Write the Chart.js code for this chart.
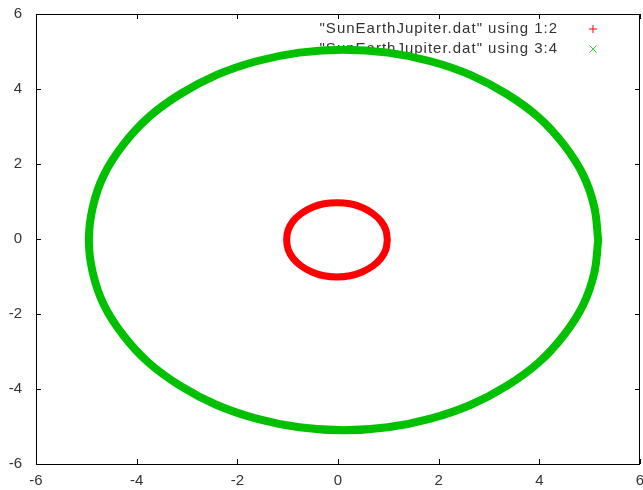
<!DOCTYPE html>
<html>
<head>
<meta charset="utf-8">
<script src="https://cdn.jsdelivr.net/npm/chart.js@4/dist/chart.umd.min.js"></script>
<style>
  html, body { margin: 0; padding: 0; background: #fff; }
  canvas { display: block; }
</style>
</head>
<body>
<canvas id="orbitChart" width="643" height="490"></canvas>
<script>
// --- Data ---
const earthLabel = '"SunEarthJupiter.dat" using 1:2';
const earthX = [0.98, 0.95, 0.85, 0.69, 0.48, 0.24, -0.02, -0.28, -0.52, -0.73, -0.89, -0.99,
                -1.02, -0.99, -0.89, -0.73, -0.52, -0.28, -0.02, 0.24, 0.48, 0.69, 0.85, 0.95, 0.98];
const earthY = [-0.02, 0.24, 0.48, 0.68, 0.84, 0.94, 0.97, 0.94, 0.84, 0.68, 0.48, 0.24,
                -0.02, -0.28, -0.52, -0.72, -0.88, -0.98, -1.01, -0.98, -0.88, -0.72, -0.52, -0.28, -0.02];

const jupiterLabel = '"SunEarthJupiter.dat" using 3:4';
const jupiterX = [5.17, 5.09, 4.87, 4.49, 3.99, 3.36, 2.64, 1.84, 0.99, 0.11, -0.77, -1.62,
                  -2.42, -3.14, -3.77, -4.27, -4.65, -4.87, -4.95, -4.87, -4.65, -4.27, -3.77, -3.14,
                  -2.42, -1.62, -0.77, 0.11, 0.99, 1.84, 2.64, 3.36, 3.99, 4.49, 4.87, 5.09, 5.17];
const jupiterY = [-0.03, 0.86, 1.71, 2.51, 3.24, 3.86, 4.37, 4.74, 4.97, 5.05, 4.97, 4.74,
                  4.37, 3.86, 3.24, 2.51, 1.71, 0.86, -0.03, -0.91, -1.76, -2.56, -3.29, -3.91,
                  -4.42, -4.79, -5.02, -5.10, -5.02, -4.79, -4.42, -3.91, -3.29, -2.56, -1.76, -0.91, -0.03];

const tickValues = [-6, -4, -2, 0, 2, 4, 6];

const toPoints = (xs, ys) => xs.map((x, i) => ({ x: x, y: ys[i] }));

const FONT = "'Liberation Sans', Arial, sans-serif";
const TEXT_COLOR = '#333';

// --- Plugin: box border + inward mirrored ticks (gnuplot style) ---
const frame = {
    id: 'frame',
    afterDraw(chart) {
        const { ctx, chartArea: a, scales } = chart;
        ctx.save();
        ctx.strokeStyle = '#000';
        ctx.lineWidth = 1;
        ctx.beginPath();
        ctx.rect(Math.round(a.left) + 0.5, Math.round(a.top) + 0.5,
                 Math.round(a.right - a.left) - 1, Math.round(a.bottom - a.top));
        const len = 5;
        tickValues.forEach(v => {
            const px = Math.round(scales.x.getPixelForValue(v)) + 0.5;
            ctx.moveTo(px, a.bottom); ctx.lineTo(px, a.bottom - len);
            ctx.moveTo(px, a.top); ctx.lineTo(px, a.top + len);
            const py = Math.round(scales.y.getPixelForValue(v)) + 0.5;
            ctx.moveTo(a.left, py); ctx.lineTo(a.left + len, py);
            ctx.moveTo(a.right, py); ctx.lineTo(a.right - len, py);
        });
        ctx.stroke();
        ctx.restore();
    }
};

// --- Plugin: key in the top right, text right-aligned with sample to its right ---
const gnuKey = {
    id: 'gnuKey',
    beforeDatasetsDraw(chart) {
        const ctx = chart.ctx;
        const textRight = 558;
        const sampleX = 593;
        const rowY = [29, 49];
        ctx.save();
        ctx.font = '15px ' + FONT;
        ctx.letterSpacing = '1px';
        ctx.textAlign = 'right';
        ctx.textBaseline = 'middle';
        chart.data.datasets.forEach((ds, i) => {
            const y = rowY[i];
            ctx.fillStyle = TEXT_COLOR;
            ctx.fillText(ds.label, textRight, y);
            ctx.strokeStyle = ds.keyColor;
            ctx.lineWidth = 1;
            ctx.beginPath();
            if (ds.keyStyle === 'cross') {
                ctx.moveTo(sampleX - 4, y); ctx.lineTo(sampleX + 4, y);
                ctx.moveTo(sampleX, y - 4); ctx.lineTo(sampleX, y + 4);
            } else {
                ctx.moveTo(sampleX - 3.5, y - 3.5); ctx.lineTo(sampleX + 3.5, y + 3.5);
                ctx.moveTo(sampleX - 3.5, y + 3.5); ctx.lineTo(sampleX + 3.5, y - 3.5);
            }
            ctx.stroke();
        });
        ctx.restore();
    }
};

const ctx = document.getElementById('orbitChart').getContext('2d');
const orbitChart = new Chart(ctx, {
    type: 'scatter',
    data: {
        datasets: [
            {
                label: earthLabel,
                data: toPoints(earthX, earthY),
                showLine: true,
                borderColor: '#ff0000',
                borderWidth: 7,
                borderJoinStyle: 'round',
                borderCapStyle: 'round',
                pointRadius: 0,
                tension: 0.4,
                keyColor: '#ff0000',
                keyStyle: 'cross'
            },
            {
                label: jupiterLabel,
                data: toPoints(jupiterX, jupiterY),
                showLine: true,
                borderColor: '#00c000',
                borderWidth: 8,
                borderJoinStyle: 'round',
                borderCapStyle: 'round',
                pointRadius: 0,
                tension: 0.4,
                keyColor: '#3ccf3c',
                keyStyle: 'crossRot'
            }
        ]
    },
    options: {
        responsive: false,
        animation: false,
        devicePixelRatio: 1,
        layout: { padding: { top: 14, right: 3, left: 0, bottom: 0 } },
        plugins: {
            legend: { display: false },
            tooltip: { enabled: false }
        },
        scales: {
            x: {
                type: 'linear',
                min: -6, max: 6,
                afterBuildTicks: s => { s.ticks = tickValues.map(v => ({ value: v })); },
                afterFit: s => { s.height = 26; s.paddingLeft = 0; s.paddingRight = 0; },
                grid: { display: false, drawTicks: false },
                border: { display: false },
                ticks: {
                    padding: 8,
                    color: TEXT_COLOR,
                    font: { family: FONT, size: 15 },
                    maxRotation: 0
                }
            },
            y: {
                type: 'linear',
                min: -6, max: 6,
                afterBuildTicks: s => { s.ticks = tickValues.map(v => ({ value: v })); },
                afterFit: s => { s.width = 36; s.paddingTop = 0; s.paddingBottom = 0; },
                grid: { display: false, drawTicks: false },
                border: { display: false },
                ticks: {
                    padding: 14,
                    color: TEXT_COLOR,
                    font: { family: FONT, size: 15 }
                }
            }
        }
    },
    plugins: [gnuKey, frame]
});
</script>
</body>
</html>
